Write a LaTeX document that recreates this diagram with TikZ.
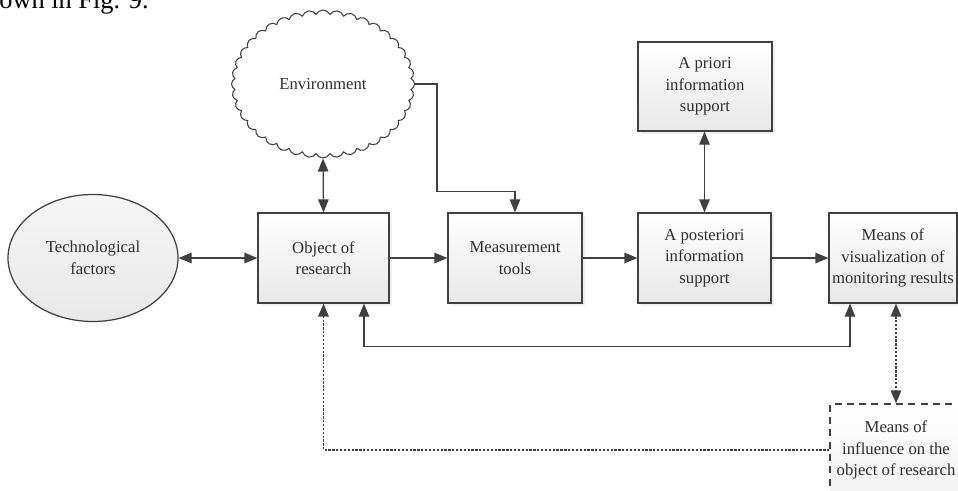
\documentclass[tikz,border=0pt]{standalone}
\usepackage{fontspec}
\setmainfont{Liberation Serif}
\usetikzlibrary{arrows.meta, shapes.geometric, shapes.symbols, shadows}
\definecolor{linegray}{HTML}{404040}
\definecolor{textgray}{HTML}{2E2E2E}

\begin{document}
\begin{tikzpicture}[>={Triangle[length=2.6mm, width=2.1mm]},
    line/.style={draw=linegray, line width=0.7pt},
    conn/.style={line, <->},
    dots/.style={line, line width=0.9pt, dash pattern=on 1.3pt off 0.9pt},
    box/.style={line, rectangle, top color=white, bottom color=gray!18,
        drop shadow={shadow xshift=0.5mm, shadow yshift=-0.5mm, opacity=0.12},
        minimum width=2.66cm, minimum height=1.8cm, align=center,
        inner sep=0pt, text=textgray, font=\fontsize{9.5}{12.2}\selectfont}]
    \useasboundingbox (0,0) rectangle (19.16,9.8);
    \clip (0,0) rectangle (19.16,9.8);
    % Line of text above the figure
    \node[anchor=base west, inner sep=0pt, font=\fontsize{15}{18}\selectfont]
        (figref) at (-0.02,9.64) {own in Fig. 9.};
    % Outer influences
    \node[line, cloud, cloud puffs=40, cloud puff arc=130, cloud ignores aspect,
        minimum width=3.66cm, minimum height=2.96cm, fill=white, line width=0.6pt,
        text=textgray, font=\fontsize{9.5}{12.2}\selectfont] (env) at (6.46,8.12) {Environment};
    \node[line, ellipse, top color=gray!7, bottom color=gray!18,
        minimum width=3.4cm, minimum height=2.54cm, align=center, inner sep=0pt,
        text=textgray, font=\fontsize{9.5}{12.2}\selectfont] (tech) at (1.86,4.64) {Technological\\factors};
    % Main chain
    \node[box, minimum width=2.62cm] (obj) at (6.47,4.64) {Object of\\research};
    \node[box, minimum width=2.68cm] (meas) at (10.30,4.64) {Measurement\\tools};
    \node[box] (apost) at (14.09,4.64) {A posteriori\\information\\support};
    \node[box, minimum width=2.56cm] (means) at (17.86,4.64) {Means of\\visualization of\\monitoring results};
    \node[box, minimum width=2.68cm, minimum height=1.78cm] (aprio) at (14.10,8.07) {A priori\\information\\support};
    \node[box, drop shadow={opacity=0}, dash pattern=on 4pt off 3pt, top color=white, bottom color=gray!10,
        minimum width=2.64cm, minimum height=1.84cm] (infl) at (17.92,0.8) {Means of\\influence on the\\object of research};
    % Connectors
    \draw[conn] (tech) -- (obj);
    \draw[conn] (env.south) -- (obj.north);
    \draw[line, ->] (env.east) -- ++(0.44,0) |- ([yshift=0.42cm]meas.north) -- (meas.north);
    \draw[line, ->] (obj) -- (meas);
    \draw[line, ->] (meas) -- (apost);
    \draw[line, ->] (apost) -- (means);
    \draw[conn] (aprio.south -| apost.north) -- (apost.north);
    \draw[conn] ([xshift=-0.86cm]means.south) -- ++(0,-0.86) -| ([xshift=0.81cm]obj.south);
    \draw[dots, <->] (infl.north |- means.south) -- (infl.north);
    \draw[dots, ->] (infl.west) -| (obj.south);
\end{tikzpicture}
\end{document}
